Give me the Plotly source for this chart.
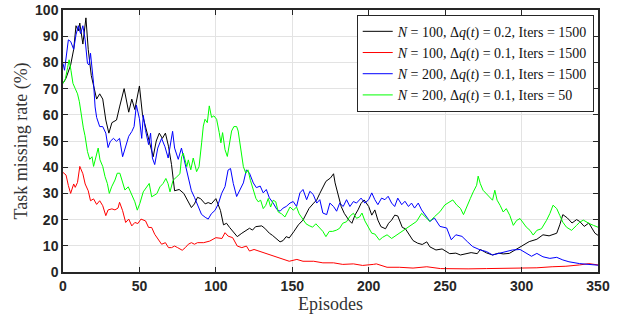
import plotly.graph_objects as go

# ---- data ----
black_ep = [0,2,5,7,8.5,10,11,13,15,16.5,18.5,20,22,24,26,28,30,32,35,37,40,43,45,47,50,52,55,57,59,61,63,65,67,69,71,73,76,79,81,84,86,88,90,93,95,97,100,103,105,107,109,112,114,117,119,122,124,126,130,132,135,137,142,144,146,148,151,154,157,159,161,164,166,168,170,172,175,177,178,180,182,184,187,189,191,193,195,197,200,202,204,206,208,211,213,215,217,219,222,224,226,229,232,235,238,240,244,248,253,257,260,264,267,271,273,277,281,285,288,292,296,301,305,310,314,318,323,325,327,330,333,336,338,341,344,348,350]
black_val = [72,74,79,85,94,92,95,87,97,85,75,71,66,68,66,58,53,57,58,63,70,61,66,62,71,60,53,49,44,50,53,51,53,48,41,31,31.5,30,28,24.6,26,28.5,28,26,26.5,26,28,23.5,18,18.6,17,14.8,13.5,14.8,15.5,16.7,16,17.3,17.6,16.7,14.8,14,11.5,12,13.5,13,15.4,18,19.8,22.3,24.3,26.3,27.5,30,32.6,34.6,35.9,37.5,34,29,25,22.4,19.8,18.6,21.7,23.7,26.2,27.5,25,21.7,23.7,19.8,17.3,16.5,18.6,19.8,21.7,21.4,17,16.5,14.8,12,11,10.5,11.5,9.6,8.4,8.8,7,7.2,6.5,7,7.4,7,8.6,7.3,6.5,7.2,6.9,7.1,8.4,10.3,11.6,12.5,14.2,13.8,14.8,18,21.9,20.6,18.7,20,19.3,17.4,18.7,14.8,14]

red_ep = [0,2,3.5,5,7,8,9.5,11,13,14.5,16.5,18,20,22,24,26,28,29.5,32,34,36,37,39,41,43,45,47,49,51,54,56,58,60,62,64.5,67,69,71,73,75,78,80,82,84,86,88,92,96,100,104,106,108,111,114,117,120,122,125,128,131,134,137,141,144,148,153,157,164,170,177,183,190,196,203,205,212,220,229,238,247,255,265,277,288,299,310,320,329,338,344,350]
red_val = [38,37,33,30,33.6,32.3,34.2,40.3,37.5,33.6,31,27.2,27.9,25.8,27.2,25.3,21.5,23.7,24.1,23.7,24.4,26.6,23.4,18.9,20.2,17.6,18.9,18.5,20.2,19.5,17,17,14.4,12.5,10.6,11.2,9.3,9.3,9.9,9.3,8.3,9.3,10.6,11.2,10.6,11.2,11.2,11.8,13.1,12.8,15,13.7,13.1,9.9,9.3,9.9,8,8.6,8,7.4,6.7,6.1,5.4,4.8,4.1,4.8,4.1,4.1,3.5,3.5,2.9,3.1,2.5,2.9,3.1,1.8,1.8,1.5,2,1.3,1.2,1.2,1.3,1.4,1.5,1.6,2,2.2,2.7,3.2,2.7]

blue_ep = [0,1,3.5,5,7,8.5,10,11.5,13,14.5,16,17,18,20,21,22,24,26,28,29.5,31,33,35,37,39,40.5,43,45,46.5,48,50,51.5,52.5,54,56,57.3,58.5,60,62,64.5,66.7,68.8,70.4,71.7,73,75.4,77.5,80,82,84,86,88.5,90.6,93,95,97,99.4,101.6,103.8,106,108,109.6,111.4,113.6,115.7,118,120,122,124.5,126.5,129,131,133,135,137.5,140,142,144,146,148.5,150.6,152.8,155,157,159.4,161.5,163.7,166,168,170,172.5,174.6,177,179,181,183.3,185.5,187.7,190,192,195,197.5,200,202,204,206,208.4,210.6,212.7,215,217,219,221.6,223.7,226,228,230,232.4,234.6,237,240,243,246.6,251,254,257,261,264.5,268,273,277,281,285.8,290,294,299,303,306.5,310,314,318.5,323,327,331,338,344.5,350]
blue_val = [79.6,77,88.6,88,85,90.5,94,91,94,88.6,79.6,79,83.5,72,63,59,55.5,55.5,53,47.5,49.9,51,49.9,51,44,47.3,51.8,53.6,55.5,63.7,58.5,51,59.8,54,48.6,53,43.5,41,47.3,51,47.8,43.5,48.6,53.7,47.3,43,47.3,41,36,31,28.5,25.3,22,20.9,20.2,22.2,23.5,26,30,32.6,38.9,39.5,33.8,28.8,31.3,34,39,37.7,34,32.2,32.8,30.2,31.5,28.3,26.3,23.8,23.2,24.4,25,26.3,26.9,25,30.2,31.5,27.6,30.8,29.6,26.3,27.6,22.5,21.9,26.3,25,23.2,26.3,25,27.6,25,26.9,26.3,28.2,26.3,27.6,30.2,27.6,25.7,28.2,27.6,28.9,26.3,25,28.2,25.7,27,25,26.3,24.4,26.3,23.7,21.9,19.3,20.6,17.4,16.8,12.3,14.2,13.6,11.6,9.7,8.4,7.8,6.5,7.1,7.8,8.4,8.6,7.1,6,7.1,5.8,5.2,5.6,4.6,3.9,3.2,3,2.6]

green_ep = [0,1.5,3,4,5.2,6.5,8,9.5,10.7,12.2,13.3,14.4,16,17.5,19,20,21.6,23,24.2,26,27.5,29,30.3,31.8,34,35.5,37.2,39,40.5,42.7,44.8,47,48.6,50.3,52.5,54.6,56.4,58,59.6,61.4,63.4,65.5,67.3,68.7,70,72,74.4,76.5,77.6,78.7,81,82,83.6,85.2,87.4,89,90.7,91.8,92.9,94.4,95.7,97.2,98.7,100.5,102.2,103.3,104.4,106,107.5,108.8,110.3,111.8,113.6,114.6,115.7,116.8,118,119.6,121,122.6,124.5,126.2,127.7,129.3,131,132.6,134.3,135.8,137.5,139.2,140.8,143,145.2,146.7,148.5,150.6,152.8,154.5,156.6,159,161,163.3,165.4,167.5,170,172,174.2,176.4,179,181,183,185.5,188,190,192,194,195.6,197.5,200,202,204,207,209,212,215,218.6,221.5,224.7,228,231.3,234.6,236.8,240,243,246.6,249.8,253,255,257.5,260,262,264,266.5,268.4,270.6,271.6,273,274.8,277,279,281,282.5,284,286,288,290,292.3,294.6,296.8,299,301,303,305.5,307.6,310,313,316.3,318.5,320.6,323,325,327,329.4,332.7,336,338,340.4,342.5,344.6,347,350]
green_val = [72,73.5,78,81,77,72,70,68,65,58,55,52,46,43,44,40.3,44,47.3,42.8,40.3,36.4,33.8,30,32.5,35.1,37.7,37.7,34.5,31.3,32.5,30,26.8,23.6,26.2,30.6,32.5,33.8,28.7,29.3,29.9,32.5,33.8,35.7,33.8,30.6,35,36.3,37.5,44,45.3,40.2,42.8,39,43.5,38.3,40.2,49.3,55.7,58.3,57,63.4,59,59.6,58.3,53.2,49.3,53.2,46.7,44.1,49.3,53.8,55.5,55.5,53.8,49.3,44.1,40.2,37.7,39,35,31.3,28.1,26.8,27.4,24.2,25.4,28.1,24.8,27.4,26.8,22.9,22.2,21,22.9,24.8,23.6,24.8,22.2,20.3,18.4,17.7,17.1,18.4,17.1,15.5,13.5,15.5,15.5,16,16.7,18.6,19.2,21.5,22.4,20.5,21,22.5,19.5,17,14.8,14.5,12.2,13.2,14.2,12.8,14.2,15.4,16.7,18,19.3,22.4,21.1,19.3,21.1,23,25.6,26.8,27.5,25.6,24.3,21.9,25,28.1,30.6,33.1,36.6,33.7,31.2,29.9,28.6,27.4,31.2,27.4,25.4,22.9,24.2,21.6,17.8,19.7,20.4,19,17.2,15.9,14.1,15.9,16.5,19.7,22.3,25.5,24.2,21.6,19,17.1,15.9,17.8,19,19.8,19,18.4,17.8,17.1]

names = [
    "<i>N</i> = 100, Δ<i>q</i>(<i>t</i>) = 0.2, Iters = 1500",
    "<i>N</i> = 100, Δ<i>q</i>(<i>t</i>) = 0.1, Iters = 1500",
    "<i>N</i> = 200, Δ<i>q</i>(<i>t</i>) = 0.1, Iters = 1500",
    "<i>N</i> = 200, Δ<i>q</i>(<i>t</i>) = 0.1, Iters = 50",
]
colors = ["#000000", "#ff0000", "#0000ff", "#00ff00"]
series = [(black_ep, black_val), (red_ep, red_val), (blue_ep, blue_val), (green_ep, green_val)]

x_ticks = [0, 50, 100, 150, 200, 250, 300, 350]
y_ticks = [0, 10, 20, 30, 40, 50, 60, 70, 80, 90, 100]

fig = go.Figure()
for (xs, ys), nm, c in zip(series, names, colors):
    fig.add_trace(go.Scatter(x=xs, y=ys, mode="lines", name=nm,
                             line=dict(color=c, width=1)))

tickfont = dict(family="Liberation Sans, Arial", size=14, color="#262626", weight="bold")
serif = "Liberation Serif, DejaVu Serif, serif"

fig.update_layout(
    width=619, height=316,
    margin=dict(l=63, r=21, t=10, b=44, autoexpand=False),
    paper_bgcolor="white", plot_bgcolor="white",
    xaxis=dict(range=[0, 350], tickvals=x_ticks, ticks="inside", ticklen=5,
               tickcolor="#262626", showline=True, linecolor="#262626", linewidth=1.5,
               mirror="ticks", showgrid=True, gridcolor="#e3e3e3", gridwidth=1,
               zeroline=False, tickfont=tickfont, automargin=False,
               ticklabeloverflow="allow",
               title=dict(text="Episodes", font=dict(family=serif, size=18, color="#333333"),
                          standoff=2)),
    yaxis=dict(range=[0, 100], tickvals=y_ticks, ticks="inside", ticklen=5,
               tickcolor="#262626", showline=True, linecolor="#262626", linewidth=1.5,
               mirror="ticks", showgrid=True, gridcolor="#e3e3e3", gridwidth=1,
               zeroline=False, tickfont=tickfont, automargin=False,
               ticklabeloverflow="allow",
               title=dict(text="Task missing rate (%)",
                          font=dict(family=serif, size=18, color="#333333"), standoff=3)),
    legend=dict(x=0.992, y=0.982, xanchor="right", yanchor="top",
                bgcolor="white", bordercolor="#262626", borderwidth=1,
                font=dict(family=serif, size=14, color="#111111"),
                itemwidth=30, tracegroupgap=0),
    showlegend=True,
)

# remove the browser's default 8px body margin so the figure sits at the window origin
fig.write_html("out.html", config={"displayModeBar": False},
               post_script="document.body.style.margin='0';")
